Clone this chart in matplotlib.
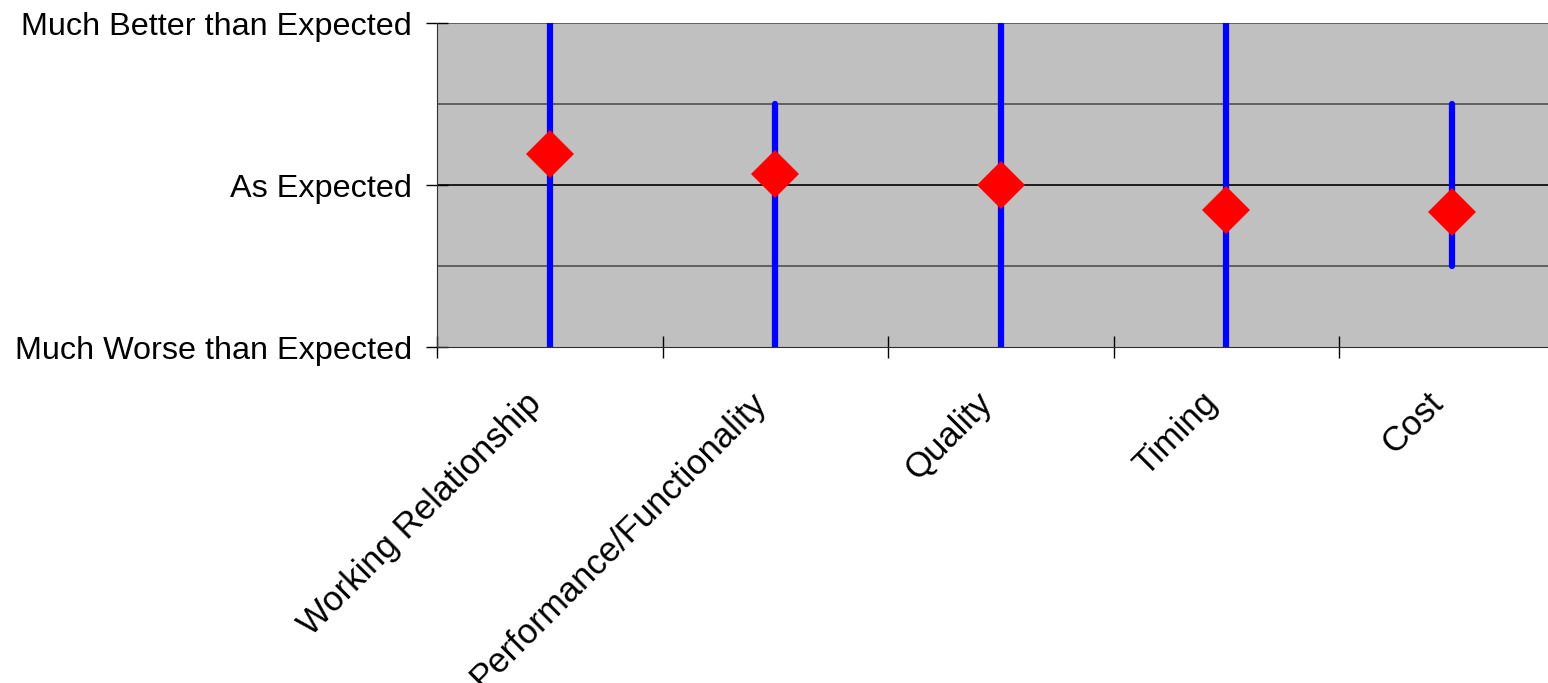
import numpy as np
import matplotlib.pyplot as plt
from matplotlib.transforms import ScaledTranslation

plt.rcParams['font.family'] = ['Liberation Sans', 'DejaVu Sans']

categories = ['Working Relationship', 'Performance/Functionality', 'Quality', 'Timing', 'Cost']
mean_score = [0.38, 0.14, 0.0, -0.31, -0.33]
high_score = [2, 1, 2, 2, 1]
low_score = [-2, -2, -2, -2, -1]
y_ticks = [-2, 0, 2]
y_labels = ['Much Worse than Expected', 'As Expected', 'Much Better than Expected']

fig = plt.figure(figsize=(15.48, 6.83), dpi=100)
ax = fig.add_axes([437 / 1548, 1 - 347 / 683, 1127.5 / 1548, 324 / 683])
ax.set_facecolor('#c0c0c0')

x = np.arange(1, len(categories) + 1)
ax.vlines(x, low_score, high_score, color='#0000ff', lw=4.5, capstyle='round', zorder=3)
ax.plot(x, mean_score, 'D', color='#ff0000', ms=24, mew=0, zorder=4)

ax.set_xlim(0.5, len(categories) + 0.5)
ax.set_ylim(-2, 2)

for g in [-1, 1, 2]:
    ax.axhline(g, color='#505050', lw=1.2, zorder=1)
ax.axhline(0, color='black', lw=1.2, zorder=1)

ax.set_yticks(y_ticks)
ax.set_yticklabels(y_labels, fontsize=23.3)
ax.tick_params(axis='y', direction='inout', length=16, width=1, pad=10)

# category labels, rotated, right end just under each category
ax.set_xticks([])
ax.set_xticks(np.arange(0.5, len(categories) + 1, 1.0), minor=True)
ax.tick_params(axis='x', which='minor', direction='inout', length=16, width=1)
off = ax.get_xaxis_transform() + ScaledTranslation(-0.14, -0.51, fig.dpi_scale_trans)
for xi, name in zip(x, categories):
    ax.text(xi, 0, name, transform=off, fontsize=25, rotation=45,
            ha='right', va='center', rotation_mode='anchor', clip_on=False)

for s in ['top', 'right']:
    ax.spines[s].set_visible(False)
ax.spines['left'].set_color('#303030')
ax.spines['bottom'].set_color('#303030')

fig.savefig('out.png', dpi=100)
